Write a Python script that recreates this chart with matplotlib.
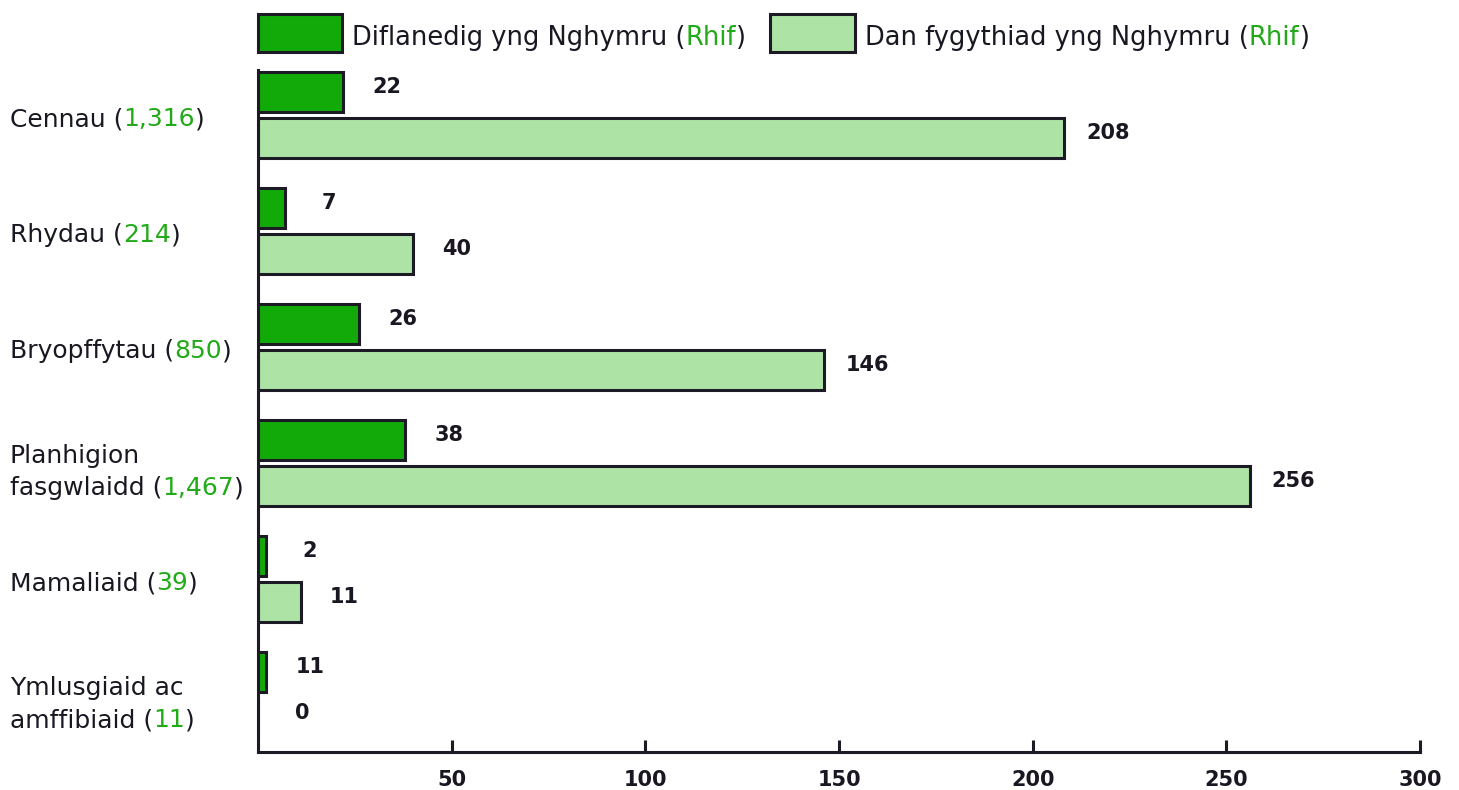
import matplotlib
matplotlib.use('Agg')
import matplotlib.pyplot as plt
from matplotlib.patches import Rectangle
import numpy as np

# data
categories = [
    [[('Cennau (', 'k'), ('1,316', 'g'), (')', 'k')]],
    [[('Rhydau (', 'k'), ('214', 'g'), (')', 'k')]],
    [[('Bryopffytau (', 'k'), ('850', 'g'), (')', 'k')]],
    [[('Planhigion', 'k')], [('fasgwlaidd (', 'k'), ('1,467', 'g'), (')', 'k')]],
    [[('Mamaliaid (', 'k'), ('39', 'g'), (')', 'k')]],
    [[('Ymlusgiaid ac', 'k')], [('amffibiaid (', 'k'), ('11', 'g'), (')', 'k')]],
]
extinct = [22, 7, 26, 38, 2, 2]
extinct_labels = ['22', '7', '26', '38', '2', '11']
threatened = [208, 40, 146, 256, 11, 0]
threatened_labels = ['208', '40', '146', '256', '11', '0']
xticks = [50, 100, 150, 200, 250, 300]

DARK = '#12aa08'
LIGHT = '#ade3a5'
EDGE = '#1c1a24'
TXT = '#1a1722'
GREEN_TXT = '#22aa18'
FONT = 'DejaVu Sans'

W, H = 1459, 790
fig = plt.figure(figsize=(W / 100, H / 100), dpi=100)
ax = fig.add_axes([258 / W, 1 - 752 / H, (1420 - 258) / W, (752 - 70) / H])

y = np.arange(len(categories))
bh = 0.345
off = 0.198
ax.barh(y - off, extinct, height=bh, color=DARK, edgecolor=EDGE, linewidth=2.2)
ax.barh(y + off, threatened, height=bh, color=LIGHT, edgecolor=EDGE, linewidth=2.2)

ax.set_xlim(0, 300)
ax.set_ylim(5.49, -0.39)
ax.set_xticks(xticks)
ax.set_yticks([])
ax.tick_params(axis='x', direction='in', length=9, width=2.2, color=EDGE,
               labelsize=15, labelcolor=TXT, pad=13)
for lab in ax.get_xticklabels():
    lab.set_fontweight('bold')
    lab.set_family(FONT)
for s in ['top', 'right']:
    ax.spines[s].set_visible(False)
for s in ['left', 'bottom']:
    ax.spines[s].set_linewidth(2.2)
    ax.spines[s].set_color(EDGE)

# value labels
for i in range(len(categories)):
    ax.annotate(extinct_labels[i], (extinct[i], y[i] - off), xytext=(44, 5),
                textcoords='offset pixels', ha='center', va='center',
                fontsize=15, fontweight='bold', color=TXT, family=FONT)
    ax.annotate(threatened_labels[i], (threatened[i], y[i] + off), xytext=(44, 5),
                textcoords='offset pixels', ha='center', va='center',
                fontsize=15, fontweight='bold', color=TXT, family=FONT)

renderer = fig.canvas.get_renderer()


def rich(parts, xy, xycoords, dx, dy, size):
    for s, c in parts:
        t = ax.annotate(s, xy, xycoords=xycoords, xytext=(dx, dy),
                        textcoords='offset pixels', ha='left', va='baseline',
                        fontsize=size, color=GREEN_TXT if c == 'g' else TXT,
                        family=FONT, annotation_clip=False)
        dx += t.get_window_extent(renderer).width


# category labels
for i, lines in enumerate(categories):
    if len(lines) == 1:
        base = [-11]
    else:
        base = [0, -32]
    for ln, b in zip(lines, base):
        rich(ln, (0, y[i]), ax.get_yaxis_transform(), 10 - 258, b, 18)

# legend
fig.add_artist(Rectangle((258 / W, 1 - 52 / H), 84 / W, 38 / H, transform=fig.transFigure,
                         facecolor=DARK, edgecolor=EDGE, linewidth=2.2))
fig.add_artist(Rectangle((770 / W, 1 - 52 / H), 85 / W, 38 / H, transform=fig.transFigure,
                         facecolor=LIGHT, edgecolor=EDGE, linewidth=2.2))
leg_parts = [
    (352, [('Diflanedig yng Nghymru (', 'k'), ('Rhif', 'g'), (')', 'k')]),
    (865, [('Dan fygythiad yng Nghymru (', 'k'), ('Rhif', 'g'), (')', 'k')]),
]
for x0, parts in leg_parts:
    rich(parts, (0, 0), 'figure pixels', x0, H - 45, 18.5)

fig.savefig('out.png', dpi=100)
